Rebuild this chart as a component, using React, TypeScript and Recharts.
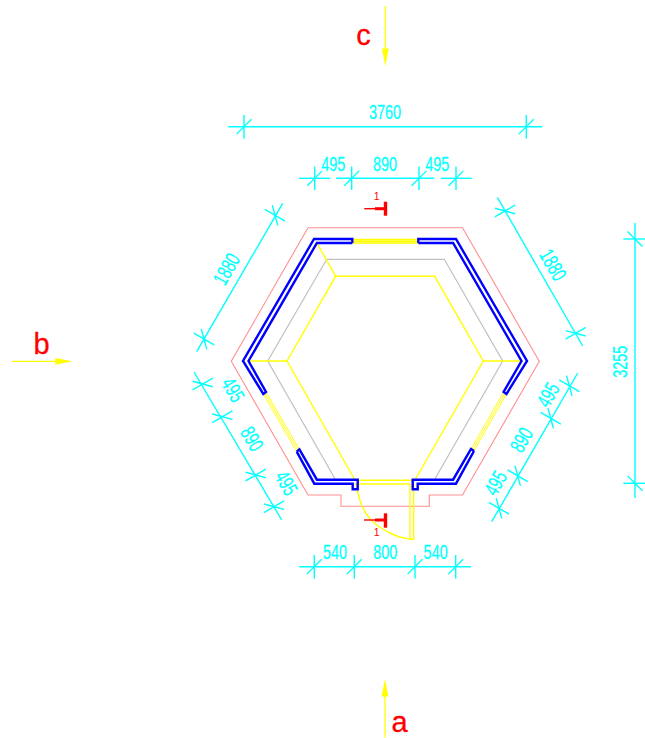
import React from 'react';
import { ScatterChart, Scatter, XAxis, YAxis } from 'recharts';

type P = { x: number; y: number };
const pts = (...v: number[][]): P[] => v.map(([x, y]) => ({ x, y }));

const WIDTH = 645;
const HEIGHT = 738;

// outline (pink)
const outline = pts([308, 227.7], [462.5, 227.7], [539.3, 361.3], [462.5, 495], [429.3, 495], [429.3, 506.3], [341, 506.3], [341, 495], [308, 495], [231.3, 361.3], [308, 227.7]);
// grey hexagon
const greyHex = pts([335.7, 480], [267.7, 361], [326.7, 259.3], [444.3, 259.3], [502.7, 361], [434.3, 480]);
// yellow inner
const yellowHex = pts([355, 480], [287, 361], [335.7, 276.3], [434.7, 276.3], [483.3, 361], [415, 480]);
const yellowLinks = [
  pts([317, 243], [335.7, 276.3]),
  pts([249, 361], [287, 361]),
  pts([483.3, 361], [522, 361]),
  pts([355, 480.3], [415, 480.3]),
  pts([355, 484], [410, 484]),
  pts([410, 484], [410, 539.3], [413.7, 539.3], [413.7, 484]),
];
const doorSwing = pts([356.5, 484], [357.5, 491], [359.5, 499], [362, 506], [366, 513.5], [371, 520], [378, 526], [386, 531], [392, 534], [398, 536.5], [404, 538], [410, 539]);

// yellow windows
const topWindow = [
  pts([352.3, 239.6], [418.3, 239.6]),
  pts([352.3, 241.3], [418.3, 241.3]),
  pts([352.3, 243], [418.3, 243]),
];
const sideWindows = [
  pts([263.3, 394], [296.7, 451.7]),
  pts([264.7, 393], [298, 450.5]),
  pts([266, 392], [299.4, 449.3]),
  pts([506.5, 394], [474, 451]),
  pts([505, 393], [472.5, 450]),
  pts([503.6, 392], [471, 449]),
];

// blue walls
const walls = [
  pts([352.3, 243], [352.3, 239], [314, 239], [243, 361], [263.3, 394], [266, 392], [248.5, 361], [316.9, 243], [352.3, 243]),
  pts([418.3, 243], [418.3, 239], [456, 239], [527, 361], [506.5, 394], [503.6, 392], [521.5, 361], [453.1, 243], [418.3, 243]),
  pts([296.7, 451.7], [299.4, 449.3], [316.9, 479.7], [357.7, 479.7], [357.7, 489.3], [352.7, 489.3], [352.7, 483.7], [314.3, 483.7], [296.7, 451.7]),
  pts([474, 451], [471, 449], [453.1, 479.7], [412.7, 479.7], [412.7, 489.3], [417.7, 489.3], [417.7, 483.7], [456, 483.7], [474, 451]),
];

// dimension lines
const dimLines = [
  pts([228.3, 126.7], [542.3, 126.7]),
  pts([299, 178.3], [330, 178.3]),
  pts([336, 178.3], [434.3, 178.3]),
  pts([440.7, 178.3], [471.7, 178.3]),
  pts([299.3, 566.7], [471, 566.7]),
  pts([196.7, 351.7], [282.7, 203.3]),
  pts([497.3, 197.3], [582.7, 346]),
  pts([194, 372], [281.7, 520]),
  pts([491.7, 521.7], [577.7, 373]),
  pts([635, 223], [635, 498]),
];

// dimension ticks: x, y, direction of the dimension line
const dimTicks = [
  [244, 126.7, 0], [526.3, 126.7, 0],
  [314.7, 178.3, 0], [351.7, 178.3, 0], [419, 178.3, 0], [456, 178.3, 0],
  [314.3, 566.7, 0], [354.3, 566.7, 0], [415, 566.7, 0], [455.7, 566.7, 0],
  [204, 339, -60], [275, 215.3, -60],
  [505, 211, 60], [575.7, 333.3, 60],
  [202.7, 384, 60], [222.3, 416.7, 60], [255.7, 475, 60], [274, 506.7, 60],
  [499, 508.3, -60], [517.7, 475.7, -60], [550.7, 418.3, -60], [569.3, 385.7, -60],
  [635, 239, -90], [635, 483.3, -90],
];

const tickSegments = (): P[][] => {
  const out: P[][] = [];
  const EXT = 11.7;
  const SLASH = 10.5;
  dimTicks.forEach(([x, y, a]) => {
    const r = (a * Math.PI) / 180;
    const px = -Math.sin(r), py = Math.cos(r);
    const s = ((a - 45) * Math.PI) / 180;
    const sx = Math.cos(s), sy = Math.sin(s);
    out.push([{ x: x - px * EXT, y: y - py * EXT }, { x: x + px * EXT, y: y + py * EXT }]);
    out.push([{ x: x - sx * SLASH, y: y - sy * SLASH }, { x: x + sx * SLASH, y: y + sy * SLASH }]);
  });
  return out;
};

// dimension labels
const dimLabels = [
  { x: 385, y: 111.7, t: '3760', a: 0 },
  { x: 333.3, y: 164, t: '495', a: 0 },
  { x: 385, y: 164, t: '890', a: 0 },
  { x: 437.3, y: 164, t: '495', a: 0 },
  { x: 335, y: 551.7, t: '540', a: 0 },
  { x: 385.3, y: 551.7, t: '800', a: 0 },
  { x: 435.7, y: 551.7, t: '540', a: 0 },
  { x: 226.7, y: 269.3, t: '1880', a: -60 },
  { x: 552.7, y: 265, t: '1880', a: 60 },
  { x: 232.7, y: 390, t: '495', a: 60 },
  { x: 251.7, y: 439, t: '890', a: 60 },
  { x: 286, y: 483.3, t: '495', a: 60 },
  { x: 495.7, y: 483.3, t: '495', a: -60 },
  { x: 521.7, y: 440, t: '890', a: -60 },
  { x: 548.3, y: 395, t: '495', a: -60 },
  { x: 620, y: 361.7, t: '3255', a: -90 },
];

// view markers
const viewLines = [
  pts([385.3, 6], [385.3, 52]),
  pts([12, 361.3], [58, 361.3]),
  pts([385, 737.7], [385, 692]),
];
const viewTips = [
  { x: 385.3, y: 66, a: 90 },
  { x: 72.7, y: 361.3, a: 0 },
  { x: 385, y: 679, a: -90 },
];
const viewLabels = [
  { x: 363.5, y: 45, t: 'c' },
  { x: 41.5, y: 354, t: 'b' },
  { x: 399.5, y: 731.8, t: 'a' },
];

// section marks
const sectionLines = [
  pts([364.3, 208.7], [375, 208.7]),
  pts([364, 520], [375, 520]),
];
const sectionArrowBars = [
  pts([375, 208.7], [385, 208.7]),
  pts([375, 520], [385, 520]),
];
const sectionBars = [
  pts([385.5, 201.7], [385.5, 215.7]),
  pts([385.5, 513.3], [385.5, 527.7]),
];
const sectionLabels = [
  { x: 376.7, y: 196, t: '1' },
  { x: 376.7, y: 532.3, t: '1' },
];

const NoDot = () => <g />;

const line = (data: P[], stroke: string, strokeWidth: number, key: string) => (
  <Scatter
    key={key}
    data={data}
    line={{ stroke, strokeWidth, strokeLinejoin: 'miter', fill: 'none' }}
    shape={NoDot}
    isAnimationActive={false}
  />
);

const DimText = (p: any) => (
  <text
    transform={`translate(${p.cx},${p.cy}) rotate(${p.payload.a}) scale(0.69,1)`}
    textAnchor="middle"
    dominantBaseline="central"
    fontFamily="Liberation Sans"
    fontSize={21}
    fill="#00ffff"
    stroke="#00ffff"
    strokeWidth={0.25}
  >
    {p.payload.t}
  </text>
);

const ViewText = (p: any) => (
  <text x={p.cx} y={p.cy} textAnchor="middle" fontFamily="Liberation Sans" fontSize={29} fill="#ff0000" stroke="#ff0000" strokeWidth={0.3}>
    {p.payload.t}
  </text>
);

const SectionText = (p: any) => (
  <text x={p.cx} y={p.cy} textAnchor="middle" dominantBaseline="central" fontFamily="Liberation Sans" fontSize={10.5} fill="#ff0000">
    {p.payload.t}
  </text>
);

const ViewTip = (p: any) => (
  <polygon
    transform={`translate(${p.cx},${p.cy}) rotate(${p.payload.a})`}
    points="0,0 -17.5,-3.4 -17.5,3.4"
    fill="#ffff00"
  />
);

export default function App() {
  return (
    <div style={{ position: 'absolute', left: 0, top: 0, width: WIDTH, height: HEIGHT, background: '#fff' }}>
      <ScatterChart width={WIDTH} height={HEIGHT} margin={{ top: 0, right: 0, bottom: 0, left: 0 }}>
        <XAxis type="number" dataKey="x" domain={[0, WIDTH]} hide allowDataOverflow />
        <YAxis type="number" dataKey="y" domain={[0, HEIGHT]} reversed hide allowDataOverflow />
        {line(outline, '#ff8f8f', 1.1, 'outline')}
        {line(greyHex, '#c0c0c0', 1.2, 'grey')}
        {line(yellowHex, '#ffff00', 1.4, 'yhex')}
        {yellowLinks.map((d, i) => line(d, '#ffff00', 1.4, `yl${i}`))}
        {line(doorSwing, '#ffff00', 1.4, 'swing')}
        {topWindow.map((d, i) => line(d, '#ffff00', 1.6, `w${i}`))}
        {sideWindows.map((d, i) => line(d, '#ffff00', 0.9, `sw${i}`))}
        {walls.map((d, i) => line(d, '#0000ff', 2.4, `b${i}`))}
        {dimLines.map((d, i) => line(d, '#00ffff', 1.4, `d${i}`))}
        {tickSegments().map((d, i) => line(d, '#00ffff', 1.4, `t${i}`))}
        <Scatter data={dimLabels} shape={DimText} isAnimationActive={false} />
        {viewLines.map((d, i) => line(d, '#ffff00', 1.3, `v${i}`))}
        <Scatter data={viewTips} shape={ViewTip} isAnimationActive={false} />
        <Scatter data={viewLabels} shape={ViewText} isAnimationActive={false} />
        {sectionLines.map((d, i) => line(d, '#ff0000', 1.4, `s${i}`))}
        {sectionArrowBars.map((d, i) => line(d, '#ff0000', 3, `sa${i}`))}
        {sectionBars.map((d, i) => line(d, '#ff0000', 3.4, `sb${i}`))}
        <Scatter data={sectionLabels} shape={SectionText} isAnimationActive={false} />
      </ScatterChart>
    </div>
  );
}
